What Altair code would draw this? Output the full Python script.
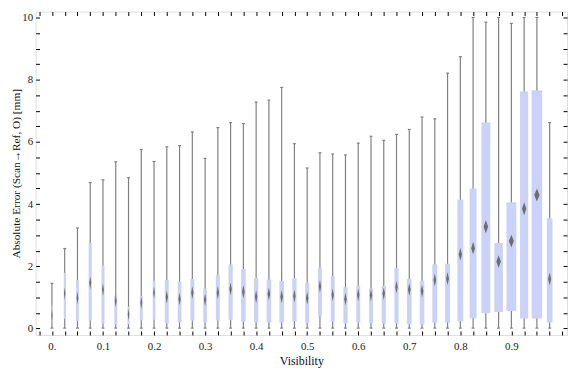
import altair as alt
import pandas as pd

# ---- data ----
visibility = [0.0, 0.025, 0.05, 0.075, 0.1, 0.125, 0.15, 0.175, 0.2, 0.225,
              0.25, 0.275, 0.3, 0.325, 0.35, 0.375, 0.4, 0.425, 0.45, 0.475,
              0.5, 0.525, 0.55, 0.575, 0.6, 0.625, 0.65, 0.675, 0.7, 0.725,
              0.75, 0.775, 0.8, 0.825, 0.85, 0.875, 0.9, 0.925, 0.95, 0.975]
whisker_low = [0.01] * 40
whisker_high = [1.45, 2.57, 3.23, 4.69, 4.78, 5.36, 4.85, 5.75, 5.37, 5.84,
                5.88, 6.32, 5.47, 6.46, 6.62, 6.59, 7.28, 7.34, 7.75, 5.94,
                5.16, 5.65, 5.61, 5.58, 5.96, 6.18, 6.05, 6.24, 6.40, 6.80,
                6.74, 8.21, 8.74, 10.0, 9.85, 10.0, 9.81, 10.0, 10.0, 6.62]
q1 = [0.22, 0.31, 0.24, 0.26, 0.15, 0.12, 0.13, 0.26, 0.28, 0.16,
      0.19, 0.25, 0.19, 0.25, 0.28, 0.22, 0.19, 0.19, 0.19, 0.23,
      0.17, 0.39, 0.22, 0.16, 0.19, 0.16, 0.15, 0.16, 0.13, 0.13,
      0.19, 0.19, 0.23, 0.32, 0.50, 0.53, 0.56, 0.32, 0.32, 0.19]
median = [0.42, 1.12, 0.98, 1.47, 1.25, 0.89, 0.45, 0.83, 1.15, 1.01,
          0.94, 1.15, 0.92, 1.15, 1.27, 1.18, 1.02, 1.11, 1.02, 1.04,
          0.97, 1.35, 1.08, 0.94, 1.08, 1.07, 1.12, 1.33, 1.25, 1.20,
          1.56, 1.60, 2.38, 2.58, 3.27, 2.15, 2.81, 3.85, 4.29, 1.59]
q3 = [0.73, 1.79, 1.56, 2.75, 2.02, 1.06, 0.70, 1.05, 1.53, 1.56,
      1.51, 1.59, 1.28, 1.72, 2.06, 1.91, 1.62, 1.57, 1.53, 1.61,
      1.47, 1.96, 1.69, 1.32, 1.37, 1.29, 1.37, 1.94, 1.59, 1.53,
      2.06, 2.08, 4.14, 4.50, 6.62, 2.75, 4.06, 7.62, 7.66, 3.54]
# relative box width (fraction of the 0.025 bin)
rel_width = [0.10, 0.15, 0.21, 0.25, 0.23, 0.23, 0.15, 0.23, 0.21, 0.31,
             0.29, 0.31, 0.29, 0.31, 0.33, 0.36, 0.33, 0.36, 0.36, 0.33,
             0.31, 0.31, 0.31, 0.33, 0.31, 0.31, 0.33, 0.33, 0.36, 0.36,
             0.39, 0.39, 0.46, 0.54, 0.69, 0.67, 0.77, 0.64, 0.83, 0.44]

x_ticks = [round(-0.025 + 0.025 * i, 3) for i in range(42)]
y_ticks = [0.5 * i for i in range(21)]

X_DOMAIN = [-0.032, 1.009]
Y_DOMAIN = [-0.21, 10.19]
W, H = 539, 328
BIN = 0.025
px_per_unit = W / (X_DOMAIN[1] - X_DOMAIN[0])

df = pd.DataFrame({
    "v": visibility, "lo": whisker_low, "hi": whisker_high,
    "q1": q1, "med": median, "q3": q3, "rw": rel_width,
})
df["xl"] = df["v"] - df["rw"] * BIN / 2
df["xr"] = df["v"] + df["rw"] * BIN / 2
box_px = df["rw"] * BIN * px_per_unit
df["diamond"] = [
    f"M0,-1L{(0.45 * w + 0.6) / 13:.3f},0L0,1L{-(0.45 * w + 0.6) / 13:.3f},0Z"
    for w in box_px
]

FONT = "Liberation Serif"
xs = alt.Scale(domain=X_DOMAIN, nice=False, zero=False)
ys = alt.Scale(domain=Y_DOMAIN, nice=False, zero=False)

x_bottom = alt.Axis(
    orient="bottom", values=x_ticks, tickSize=4, offset=-4, domain=False,
    grid=False, tickColor="black", labelOverlap=False, labelFlush=False,
    labelExpr="datum.value == 0 ? '0.' : (abs(datum.value*10 - round(datum.value*10)) < 1e-6 && datum.value > 0 && datum.value < 0.95 ? format(datum.value, '.1f') : '')",
    labelFont=FONT, labelFontSize=11, labelColor="#222", labelPadding=6,
    title="Visibility", titleFont=FONT, titleFontSize=12, titleFontWeight="normal",
    titleColor="#111", titlePadding=4,
)
x_top = alt.Axis(
    orient="top", values=x_ticks, tickSize=4, offset=-4, domain=False,
    grid=False, tickColor="black", labels=False, title=None,
)
y_left = alt.Axis(
    orient="left", values=y_ticks, tickSize=4, offset=-4, domain=False,
    grid=False, tickColor="black", labelOverlap=False, labelFlush=False,
    labelExpr="datum.value % 2 == 0 ? format(datum.value, 'd') : ''",
    labelFont=FONT, labelFontSize=11, labelColor="#222", labelPadding=3,
    title="Absolute Error (Scan\u2192Ref, O) [mm]", titleFont=FONT,
    titleFontSize=11.5, titleFontWeight="normal", titleColor="#111",
    titlePadding=0,
)
y_right = alt.Axis(
    orient="right", values=y_ticks, tickSize=4, offset=-4, domain=False,
    grid=False, tickColor="black", labels=False, title=None,
)

base = alt.Chart(df)

whiskers = base.mark_rule(color="#808080", strokeWidth=1.2).encode(
    x=alt.X("v:Q", scale=xs, axis=x_bottom),
    y=alt.Y("lo:Q", scale=ys, axis=y_left),
    y2="hi:Q",
)
boxes = base.mark_rect(color="#cbd2f7").encode(
    x=alt.X("xl:Q", scale=xs, axis=x_top),
    x2="xr:Q",
    y=alt.Y("q1:Q", scale=ys, axis=y_right),
    y2="q3:Q",
)
caps_hi = base.mark_point(
    shape="M-1,0L1,0", filled=False, stroke="#808080", strokeWidth=1.2,
    size=9, opacity=1,
).encode(
    x=alt.X("v:Q", scale=xs, axis=None),
    y=alt.Y("hi:Q", scale=ys, axis=None),
)
caps_lo = base.mark_point(
    shape="M-1,0L1,0", filled=False, stroke="#808080", strokeWidth=1.2,
    size=9, opacity=1,
).encode(
    x=alt.X("v:Q", scale=xs, axis=None),
    y=alt.Y("lo:Q", scale=ys, axis=None),
)
diamonds = base.mark_point(filled=True, color="#6e6e6e", size=169, opacity=1).encode(
    x=alt.X("v:Q", scale=xs, axis=None),
    y=alt.Y("med:Q", scale=ys, axis=None),
    shape=alt.Shape("diamond:N", scale=None),
)

chart = (
    alt.layer(whiskers, boxes, caps_hi, caps_lo, diamonds)
    .resolve_axis(x="independent", y="independent")
    .properties(
        width=W, height=H,
        autosize=alt.AutoSizeParams(type="none"),
        padding={"left": 28, "top": 1, "right": 1, "bottom": 40},
    )
    .configure_view(stroke="black", strokeWidth=1)
    .configure(background="white")
)

chart.save("out.html", embed_options={"renderer": "svg", "actions": False})
